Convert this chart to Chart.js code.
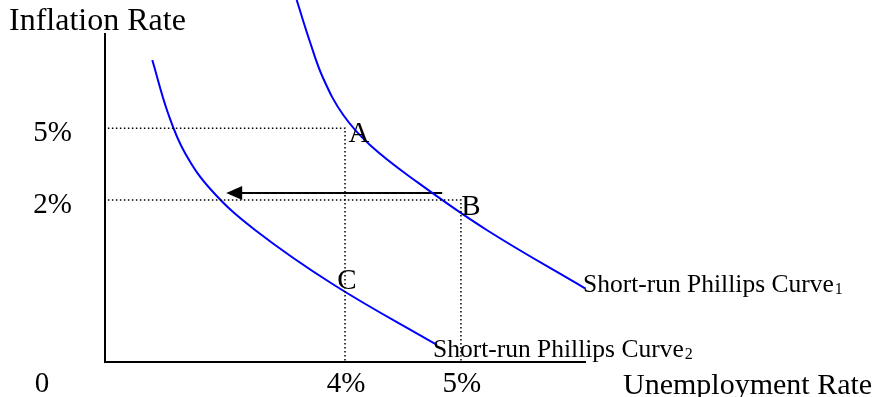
<!DOCTYPE html>
<html>
<head>
<meta charset="utf-8">
<script src="https://cdn.jsdelivr.net/npm/chart.js@4.4.1/dist/chart.umd.min.js"></script>
<style>
  html, body { margin: 0; padding: 0; background: #fff; }
  #wrap { width: 880px; height: 397px; }
</style>
</head>
<body>
<div id="wrap"><canvas id="chart" width="880" height="397"></canvas></div>
<script>
// diagram units: both axes run 0..100 across the plot
const curve1X = [39.85, 42.62, 45.38, 49.54, 55.09, 64.45, 79.36, 99.79];
const curve1Y = [100, 88.4, 78.31, 68.23, 59.94, 50.14, 36.46, 20.36];
const curve2X = [9.83, 13.16, 16.63, 22.18, 31.19, 47.46, 69.02];
const curve2Y = [83.43, 68.51, 57.73, 47.38, 36.46, 21.41, 4.7];
const curveNames = ["Short-run Phillips Curve", "Short-run Phillips Curve"];
const curveSubs = ["1", "2"];

const pointNames = ["A", "B", "C"];
const pointX = [49.9, 74.0, 49.9];
const pointY = [64.6, 44.75, 19.6];

const xTickValues = [0, 49.9, 74.0];
const xTickLabels = ["0", "4%", "5%"];
const yTickValues = [64.6, 44.75];
const yTickLabels = ["5%", "2%"];

const arrowFrom = [70.1, 46.7];
const arrowTo = [25.2, 46.7];
const yAxisTop = 90.9;

const xTitle = "Unemployment Rate";
const yTitle = "Inflation Rate";

function zip(xs, ys) {
  return xs.map((x, i) => ({ x: x, y: ys[i] }));
}

const serif = "'Liberation Serif', 'Times New Roman', serif";

// axes, arrow head and all text
const diagramPlugin = {
  id: "diagram",
  beforeDatasetsDraw: (chart) => {
    const ctx = chart.ctx;
    const xs = chart.scales.x;
    const ys = chart.scales.y;
    const x0 = xs.getPixelForValue(0);
    const y0 = ys.getPixelForValue(0);
    ctx.save();
    ctx.strokeStyle = "#000";
    ctx.lineWidth = 2;
    ctx.beginPath();
    ctx.moveTo(x0, ys.getPixelForValue(yAxisTop));
    ctx.lineTo(x0, y0);
    ctx.lineTo(xs.getPixelForValue(100), y0);
    ctx.stroke();
    ctx.restore();
  },
  afterDatasetsDraw: (chart) => {
    const ctx = chart.ctx;
    const xs = chart.scales.x;
    const ys = chart.scales.y;

    // arrow head
    const tx = xs.getPixelForValue(arrowTo[0]);
    const ty = ys.getPixelForValue(arrowTo[1]);
    ctx.save();
    ctx.fillStyle = "#000";
    ctx.beginPath();
    ctx.moveTo(tx, ty);
    ctx.lineTo(tx + 16, ty - 7);
    ctx.lineTo(tx + 16, ty + 7);
    ctx.closePath();
    ctx.fill();

    ctx.fillStyle = "#000";
    ctx.textBaseline = "alphabetic";

    // titles
    ctx.textAlign = "left";
    ctx.font = `32px ${serif}`;
    ctx.fillText(yTitle, 9, 30);
    ctx.font = `30px ${serif}`;
    ctx.fillText(xTitle, 623, 394);

    // tick labels
    ctx.font = `29px ${serif}`;
    ctx.textAlign = "right";
    yTickLabels.forEach((t, i) => {
      ctx.fillText(t, 72, ys.getPixelForValue(yTickValues[i]) + 13);
    });
    ctx.textAlign = "center";
    xTickLabels.forEach((t, i) => {
      let px = xs.getPixelForValue(xTickValues[i]);
      if (xTickValues[i] === 0) px -= 64;
      ctx.fillText(t, px + 1, 392);
    });

    // point letters
    ctx.font = `29px ${serif}`;
    const offs = [[14, 14], [10, 15], [2, -2]];
    pointNames.forEach((n, i) => {
      const px = xs.getPixelForValue(pointX[i]);
      const py = ys.getPixelForValue(pointY[i]);
      ctx.fillText(n, px + offs[i][0], py + offs[i][1]);
    });

    // curve labels at the lower end of each curve
    const ends = [
      [curve1X[curve1X.length - 1], curve1Y[curve1Y.length - 1], -2, 4],
      [curve2X[curve2X.length - 1], curve2Y[curve2Y.length - 1], -4, 12],
    ];
    ends.forEach((e, i) => {
      const px = xs.getPixelForValue(e[0]) + e[2];
      const py = ys.getPixelForValue(e[1]) + e[3];
      ctx.textAlign = "left";
      ctx.font = `25.5px ${serif}`;
      ctx.fillText(curveNames[i], px, py);
      const w = ctx.measureText(curveNames[i]).width;
      ctx.font = `16px ${serif}`;
      ctx.fillText(curveSubs[i], px + w + 1, py + 2);
    });
    ctx.restore();
  },
};

const guide = {
  type: "line",
  borderColor: "#000",
  borderWidth: 1.5,
  borderDash: [1.5, 2.5],
  pointRadius: 0,
  fill: false,
};

const curve = {
  type: "line",
  borderColor: "#0000ff",
  borderWidth: 2,
  pointRadius: 0,
  tension: 0.4,
  fill: false,
  clip: false,
};

new Chart(document.getElementById("chart"), {
  type: "scatter",
  data: {
    datasets: [
      Object.assign({}, guide, {
        data: [{ x: 0.6, y: pointY[0] }, { x: pointX[0], y: pointY[0] }, { x: pointX[0], y: 0 }],
      }),
      Object.assign({}, guide, {
        data: [{ x: 0.6, y: pointY[1] }, { x: pointX[1], y: pointY[1] }, { x: pointX[1], y: 0 }],
      }),
      Object.assign({}, curve, { data: zip(curve1X, curve1Y) }),
      Object.assign({}, curve, { data: zip(curve2X, curve2Y) }),
      {
        type: "line",
        data: [{ x: arrowFrom[0], y: arrowFrom[1] }, { x: arrowTo[0] + 3, y: arrowTo[1] }],
        borderColor: "#000",
        borderWidth: 2,
        pointRadius: 0,
        fill: false,
      },
    ],
  },
  options: {
    responsive: false,
    animation: false,
    layout: { padding: { left: 105, right: 294, top: 0, bottom: 35 } },
    scales: {
      x: { type: "linear", min: 0, max: 100, display: false },
      y: { type: "linear", min: 0, max: 100, display: false },
    },
    plugins: {
      legend: { display: false },
      tooltip: { enabled: false },
    },
  },
  plugins: [diagramPlugin],
});
</script>
</body>
</html>
